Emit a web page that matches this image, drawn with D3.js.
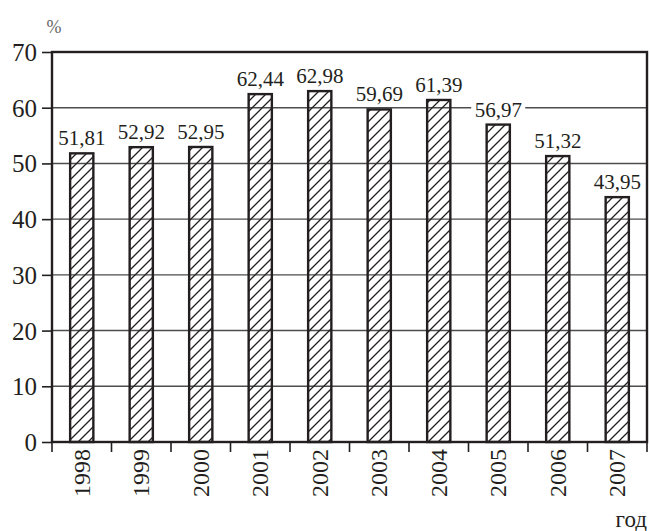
<!DOCTYPE html>
<html>
<head>
<meta charset="utf-8">
<script src="https://cdn.jsdelivr.net/npm/d3@7"></script>
<style>
  body { margin: 0; background: white; }
</style>
</head>
<body>
<div id="chart"></div>
<script>
// данные
const years = ["1998", "1999", "2000", "2001", "2002", "2003", "2004", "2005", "2006", "2007"];
const values = [51.81, 52.92, 52.95, 62.44, 62.98, 59.69, 61.39, 56.97, 51.32, 43.95];
const yTicks = [0, 10, 20, 30, 40, 50, 60, 70];

const width = 650, height = 531;
const plotLeft = 52, plotRight = 647, plotTop = 52, plotBottom = 442;
const ink = "#231f20";
const serif = "'Liberation Serif', 'Times New Roman', 'DejaVu Serif', serif";

const svg = d3.select("#chart").append("svg")
  .attr("width", width)
  .attr("height", height);

// штриховка
const pat = svg.append("defs").append("pattern")
  .attr("id", "hatch")
  .attr("patternUnits", "userSpaceOnUse")
  .attr("width", 10).attr("height", 10);
pat.append("path")
  .attr("d", "M-2,2 l4,-4 M0,10 l10,-10 M8,12 l4,-4")
  .attr("stroke", ink)
  .attr("stroke-width", 1.3);

const x = d3.scaleBand().domain(years).range([plotLeft, plotRight]).paddingInner(0.61).paddingOuter(0.305);
const xTicksScale = d3.scaleBand().domain(years).range([plotLeft, plotRight]);
const y = d3.scaleLinear().domain([0, 70]).range([plotBottom, plotTop]);

// сетка
svg.append("g")
  .selectAll("line")
  .data(yTicks.filter(t => t > 0 && t < 70))
  .join("line")
  .attr("x1", plotLeft).attr("x2", plotRight)
  .attr("y1", d => y(d)).attr("y2", d => y(d))
  .attr("stroke", "#4d4d4d")
  .attr("stroke-width", 1.4);

// ось Y
const yAxis = svg.append("g")
  .attr("transform", `translate(${plotLeft},0)`)
  .call(d3.axisLeft(y).tickValues(yTicks).tickSize(10).tickPadding(5).tickFormat(d3.format("d")));
yAxis.attr("font-family", null).attr("font-size", null);
yAxis.select(".domain").remove();
yAxis.selectAll("line").attr("stroke", ink).attr("stroke-width", 1.6);
yAxis.selectAll("text")
  .attr("font-family", serif).attr("font-size", 25)
  .attr("fill", ink).attr("dy", "0.34em");

// ось X
const xAxis = svg.append("g")
  .attr("transform", `translate(0,${plotBottom})`)
  .call(d3.axisBottom(xTicksScale).tickSize(0).tickPadding(0));
xAxis.attr("font-family", null).attr("font-size", null);
xAxis.select(".domain").remove();
xAxis.selectAll("text")
  .attr("font-family", serif).attr("font-size", 24)
  .attr("fill", ink)
  .attr("transform", "rotate(-90)")
  .attr("text-anchor", "end")
  .attr("x", -7)
  .attr("y", 0)
  .attr("dy", "0.33em");

// засечки между годами
svg.append("g")
  .selectAll("line")
  .data(years.concat(["end"]))
  .join("line")
  .attr("x1", (d, i) => i < years.length ? xTicksScale(d) : plotRight)
  .attr("x2", (d, i) => i < years.length ? xTicksScale(d) : plotRight)
  .attr("y1", plotBottom).attr("y2", plotBottom + 10)
  .attr("stroke", ink).attr("stroke-width", 1.6);

// столбцы
svg.append("g")
  .selectAll("rect")
  .data(values)
  .join("rect")
  .attr("x", (d, i) => x(years[i]))
  .attr("y", d => y(d))
  .attr("width", x.bandwidth())
  .attr("height", d => plotBottom - y(d))
  .attr("fill", "url(#hatch)")
  .attr("stroke", ink)
  .attr("stroke-width", 2.4);

// подписи значений
const lbl = svg.append("g")
  .selectAll("g")
  .data(values)
  .join("g")
  .attr("transform", (d, i) => `translate(${x(years[i]) + x.bandwidth() / 2},${y(d) - 8})`);
lbl.append("rect")
  .attr("x", -27).attr("y", -16).attr("width", 54).attr("height", 17)
  .attr("fill", "white");
lbl.append("text")
  .attr("text-anchor", "middle")
  .attr("font-family", serif).attr("font-size", 21).attr("fill", ink)
  .text(d => d.toFixed(2).replace(".", ","));

// рамка
svg.append("rect")
  .attr("x", plotLeft).attr("y", plotTop)
  .attr("width", plotRight - plotLeft).attr("height", plotBottom - plotTop)
  .attr("fill", "none")
  .attr("stroke", ink)
  .attr("stroke-width", 2.4);

svg.append("text").attr("x", 54).attr("y", 33).attr("text-anchor", "middle")
  .attr("font-family", serif).attr("font-size", 18).attr("fill", "#666").text("%");
svg.append("text").attr("x", 647).attr("y", 527).attr("text-anchor", "end")
  .attr("font-family", serif).attr("font-size", 23).attr("fill", ink).text("год");
</script>
</body>
</html>
